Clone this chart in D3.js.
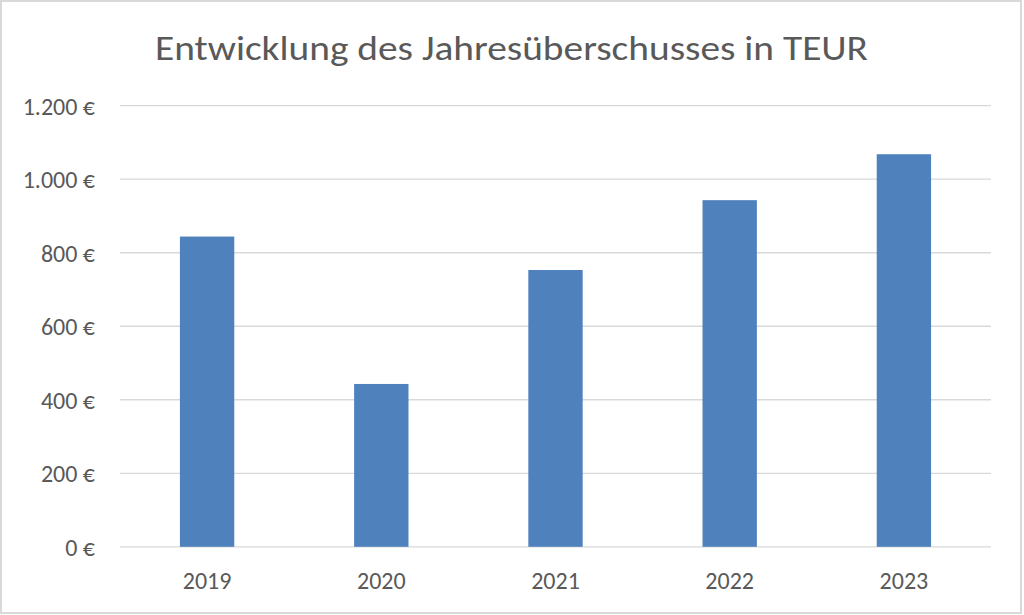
<!DOCTYPE html>
<html><head><meta charset="utf-8">
<script src="https://cdn.jsdelivr.net/npm/d3@7"></script>
<style>body{margin:0;background:#fff}svg{display:block}</style>
</head><body>
<svg id="chart" width="1024" height="615"></svg>
<script>
const categories = ["2019", "2020", "2021", "2022", "2023"];
const values = [844, 443, 753, 943, 1068];
const yTicks = [0, 200, 400, 600, 800, 1000, 1200];
const titleText = "Entwicklung des Jahresüberschusses in TEUR";

const svg = d3.select("#chart");
const font = "Calibri, Carlito, Lato, 'Open Sans', sans-serif";
const titleFont = "Calibri, Carlito, 'Open Sans', sans-serif";
const textColor = "#595959";

svg.append("rect").attr("x", 1).attr("y", 1).attr("width", 1020).attr("height", 612)
  .attr("fill", "#fff").attr("stroke", "#d9d9d9").attr("stroke-width", 2);

const x = d3.scaleBand().domain(categories).range([120, 991]).paddingInner(0.688).paddingOuter(0.344);
const y = d3.scaleLinear().domain([0, 1200]).range([546.8, 105.7]);

// gridlines
svg.append("g").selectAll("line").data(yTicks).join("line")
  .attr("x1", 120).attr("x2", 991)
  .attr("y1", d => y(d)).attr("y2", d => y(d))
  .attr("stroke", "#d9d9d9").attr("stroke-width", 1.3);

// y axis labels
const fmt = d => d3.formatLocale({decimal: ",", thousands: ".", grouping: [3], currency: ["", " €"]}).format("$,.0f")(d);
const yAxis = d3.axisLeft(y).tickValues(yTicks).tickSize(0).tickPadding(0).tickFormat(fmt);
const gy = svg.append("g").attr("transform", "translate(95,0)").call(yAxis);
gy.select(".domain").remove();
gy.selectAll("text").attr("font-family", font).attr("font-size", 24).attr("fill", textColor).attr("dy", "0.36em");

// bars
svg.append("g").selectAll("rect").data(values).join("rect")
  .attr("x", (d, i) => x(categories[i]))
  .attr("width", x.bandwidth())
  .attr("y", d => y(d))
  .attr("height", d => y(0) - y(d))
  .attr("fill", "#4f81bd");

// x axis labels
const xAxis = d3.axisBottom(x).tickSize(0).tickPadding(0);
const gx = svg.append("g").attr("transform", "translate(0,588.5)").call(xAxis);
gx.select(".domain").remove();
gx.selectAll("text").attr("font-family", font).attr("font-size", 24).attr("fill", textColor).attr("dy", 0);

// title
svg.append("text").attr("x", 511.5).attr("y", 59.5).attr("text-anchor", "middle")
  .attr("font-family", titleFont).attr("font-size", 34).attr("fill", textColor)
  .attr("textLength", 713).attr("lengthAdjust", "spacingAndGlyphs")
  .text(titleText);
</script>
</body></html>
